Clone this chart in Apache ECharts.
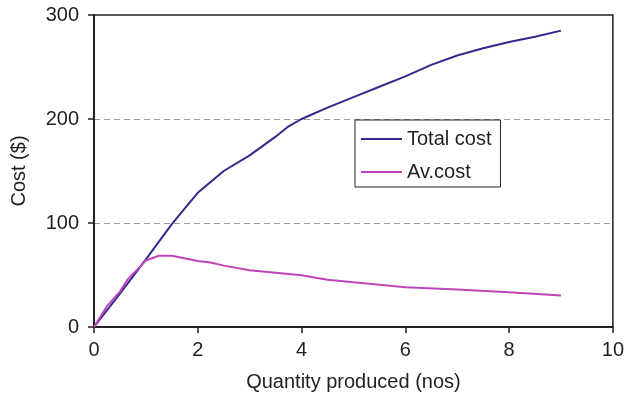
<!DOCTYPE html>
<html>
<head>
<meta charset="utf-8">
<script src="https://cdn.jsdelivr.net/npm/echarts@6/dist/echarts.min.js"></script>
<style>
  html, body { margin: 0; padding: 0; background: #fff; }
  #chart { width: 627px; height: 397px; }
</style>
</head>
<body>
<div id="chart"></div>
<script>
// Quantity produced (nos) and the corresponding total cost ($)
var totalQty  = [0, 0.5, 1, 1.5, 1.75, 2, 2.5, 3, 3.5, 3.75, 4, 4.5, 5, 5.5, 6, 6.5, 7, 7.5, 8, 8.5, 9];
var totalCost = [0, 32, 65, 99, 114, 129, 150, 165, 183, 193, 200, 211, 221, 231, 241, 252, 261, 268, 274, 279, 285];

// Average cost per unit ($)
var avQty  = [0, 0.25, 0.5, 0.65, 0.9, 1, 1.25, 1.5, 2, 2.25, 2.5, 3, 4, 4.5, 5, 6, 7, 8, 9];
var avCost = [0, 20, 34, 46, 58.5, 64, 68.5, 68.5, 63.5, 62, 59, 54.6, 49.8, 45.5, 43, 38.3, 36, 33.5, 30.3];

var xTicks = [0, 2, 4, 6, 8, 10];
var yTicks = [0, 100, 200, 300];

function pairs(xs, ys) {
  return xs.map(function (x, i) { return [x, ys[i]]; });
}

var ink = '#231f20';
var font = '"Liberation Sans", Arial, Helvetica, sans-serif';
var fs = 20;

var chart = echarts.init(document.getElementById('chart'), null, { renderer: 'canvas' });
chart.setOption({
  animation: false,
  backgroundColor: '#ffffff',
  textStyle: { fontFamily: font, color: ink },
  grid: {
    left: 94, right: 13, top: 15, bottom: 70,
    show: true, borderColor: ink, borderWidth: 1.5, backgroundColor: 'transparent'
  },
  legend: {
    orient: 'vertical',
    left: 355, top: 120,
    backgroundColor: '#fff',
    borderColor: ink, borderWidth: 1,
    padding: [9, 9, 5, 6],
    itemGap: 13,
    itemWidth: 41, itemHeight: 2,
    icon: 'rect',
    textStyle: { fontFamily: font, fontSize: fs, color: ink },
    data: ['Total cost', 'Av.cost']
  },
  xAxis: {
    type: 'value',
    min: xTicks[0], max: xTicks[xTicks.length - 1], interval: xTicks[1] - xTicks[0],
    name: 'Quantity produced (nos)',
    nameLocation: 'middle', nameGap: 45,
    nameTextStyle: { fontFamily: font, fontSize: fs, color: ink },
    axisLine: { show: true, onZero: false, lineStyle: { color: ink, width: 2 } },
    axisTick: { show: true, inside: false, length: 6, lineStyle: { color: ink, width: 1.5 } },
    axisLabel: { margin: 13, fontSize: fs, color: ink, fontFamily: font },
    splitLine: { show: false }
  },
  yAxis: {
    type: 'value',
    min: yTicks[0], max: yTicks[yTicks.length - 1], interval: yTicks[1] - yTicks[0],
    name: 'Cost ($)',
    nameLocation: 'middle', nameGap: 65,
    nameTextStyle: { fontFamily: font, fontSize: fs, color: ink },
    axisLine: { show: true, onZero: false, lineStyle: { color: ink, width: 2 } },
    axisTick: { show: true, inside: false, length: 6, lineStyle: { color: ink, width: 1.5 } },
    axisLabel: { margin: 15, fontSize: fs, color: ink, fontFamily: font },
    splitLine: {
      show: true,
      lineStyle: {
        color: ['rgba(0,0,0,0)', '#9a9a9a', '#9a9a9a', 'rgba(0,0,0,0)'],
        type: [6, 4], width: 1
      }
    }
  },
  series: [
    {
      name: 'Total cost',
      type: 'line',
      data: pairs(totalQty, totalCost),
      symbol: 'none',
      lineStyle: { color: '#35288c', width: 2 },
      itemStyle: { color: '#35288c' }
    },
    {
      name: 'Av.cost',
      type: 'line',
      data: pairs(avQty, avCost),
      symbol: 'none',
      lineStyle: { color: '#c044b9', width: 2 },
      itemStyle: { color: '#c044b9' }
    }
  ]
});
</script>
</body>
</html>
